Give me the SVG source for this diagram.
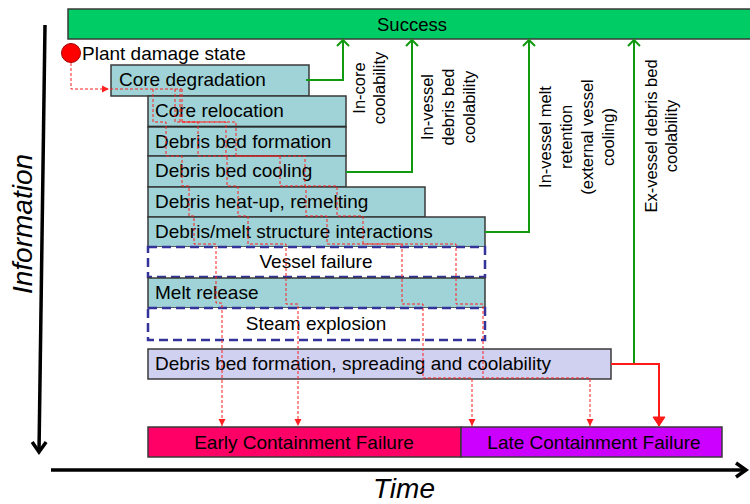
<svg xmlns="http://www.w3.org/2000/svg" width="750" height="504" viewBox="0 0 750 504">
<defs>
<style>
text{font-family:"Liberation Sans",Arial,sans-serif;fill:#000}
.lbl{font-size:19px}
.vl{font-size:16.5px;text-anchor:middle}
.box{fill:#9fd3d7;stroke:#3a3a3a;stroke-width:1.5}
.dbox{fill:#fff;stroke:#333399;stroke-width:2.5;stroke-dasharray:9 5}
.g{fill:none;stroke:#109a10;stroke-width:2}
.rd{fill:none;stroke:#ff2020;stroke-width:1;stroke-dasharray:3 2}
.rt{fill:none;stroke:#ff1a1a;stroke-width:2}
.ax{fill:none;stroke:#000;stroke-width:3.5}
</style>
<marker id="ag" markerUnits="userSpaceOnUse" markerWidth="14" markerHeight="14" refX="7" refY="7" orient="auto" viewBox="0 0 14 14"><path d="M1,1 L7,7 L1,13" fill="none" stroke="#109a10" stroke-width="2"/></marker>
<marker id="ar" markerUnits="userSpaceOnUse" markerWidth="14" markerHeight="14" refX="10" refY="7" orient="auto" viewBox="0 0 14 14"><path d="M1,1 L10,7 L1,13 Z" fill="#ff1a1a" stroke="#ff1a1a" stroke-width="1"/></marker>
<marker id="ad" markerUnits="userSpaceOnUse" markerWidth="8" markerHeight="8" refX="7" refY="4" orient="auto" viewBox="0 0 8 8"><path d="M0,0.5 L7,4 L0,7.5 Z" fill="#ff2020"/></marker>
<marker id="ak" markerUnits="userSpaceOnUse" markerWidth="20" markerHeight="20" refX="12" refY="10" orient="auto" viewBox="0 0 20 20"><path d="M2,3 L12,10 L2,17" fill="none" stroke="#000" stroke-width="3.5"/></marker>
</defs>
<rect width="750" height="504" fill="#fff"/>

<g id="axes">
<path class="ax" d="M45,25 L39,452" marker-end="url(#ak)"/>
<path class="ax" d="M51,470 L746,470" marker-end="url(#ak)"/>
<text transform="translate(32,224) rotate(-90)" style="font-size:28px;font-style:italic;text-anchor:middle">Information</text>
<text x="404" y="498" style="font-size:28px;font-style:italic;text-anchor:middle">Time</text>
</g>

<g id="success">
<rect x="68" y="9" width="690" height="30" fill="#00cc66" stroke="#3a3a3a" stroke-width="1.5"/>
<text x="412" y="31" style="font-size:18.5px;text-anchor:middle">Success</text>
</g>

<g id="plant-damage-state">
<circle cx="71" cy="53" r="9.5" fill="#ff0000" stroke="#a00000" stroke-width="1"/>
<text class="lbl" x="82" y="60">Plant damage state</text>
</g>

<g id="core-degradation">
<rect class="box" x="111" y="65" width="198" height="31"/>
<text class="lbl" x="119" y="86">Core degradation</text>
</g>
<g id="core-relocation">
<rect class="box" x="148" y="96" width="198" height="31"/>
<line x1="148" y1="127" x2="346" y2="127" stroke="#000" stroke-width="2.5"/>
<text class="lbl" x="155" y="117">Core relocation</text>
</g>
<g id="debris-bed-formation">
<rect class="box" x="148" y="127" width="198" height="29"/>
<text class="lbl" x="155" y="148">Debris bed formation</text>
</g>
<g id="debris-bed-cooling">
<rect class="box" x="148" y="156" width="198" height="31"/>
<text class="lbl" x="155" y="177">Debris bed cooling</text>
</g>
<g id="debris-heat-up">
<rect class="box" x="148" y="187" width="277" height="30"/>
<text class="lbl" x="155" y="208">Debris heat-up, remelting</text>
</g>
<g id="debris-melt-structure">
<rect class="box" x="148" y="217" width="337" height="30"/>
<text class="lbl" x="155" y="238">Debris/melt structure interactions</text>
</g>
<g id="vessel-failure">
<rect class="dbox" x="148" y="247" width="337" height="30"/>
<text class="lbl" x="316" y="268" text-anchor="middle">Vessel failure</text>
</g>
<g id="melt-release">
<rect class="box" x="148" y="278" width="337" height="30"/>
<text class="lbl" x="155" y="299">Melt release</text>
</g>
<g id="steam-explosion">
<rect class="dbox" x="148" y="308" width="337" height="32"/>
<text class="lbl" x="316" y="330" text-anchor="middle">Steam explosion</text>
</g>
<g id="ex-vessel-debris-bed">
<rect x="148" y="349" width="463" height="30" fill="#d0d0f0" stroke="#3a3a3a" stroke-width="1.5"/>
<text class="lbl" x="155" y="370">Debris bed formation, spreading and coolability</text>
</g>
<g id="early-containment-failure">
<rect x="148" y="427" width="313" height="30" fill="#ff0066" stroke="#3a3a3a" stroke-width="1.5"/>
<text class="lbl" x="304" y="449" text-anchor="middle">Early Containment Failure</text>
</g>
<g id="late-containment-failure">
<rect x="461" y="427" width="261" height="30" fill="#cc00ff" stroke="#3a3a3a" stroke-width="1.5"/>
<text class="lbl" x="594" y="449" text-anchor="middle">Late Containment Failure</text>
</g>

<g id="success-labels">
<text class="vl" transform="translate(365,88) rotate(-90)"><tspan x="0" dy="0">In-core</tspan><tspan x="0" dy="20">coolability</tspan></text>
<text class="vl" transform="translate(433,107) rotate(-90)"><tspan x="0" dy="0">In-vessel</tspan><tspan x="0" dy="21">debris bed</tspan><tspan x="0" dy="21">coolability</tspan></text>
<text class="vl" transform="translate(551,137) rotate(-90)"><tspan x="0" dy="0">In-vessel melt</tspan><tspan x="0" dy="21">retention</tspan><tspan x="0" dy="21">(external vessel</tspan><tspan x="0" dy="21">cooling)</tspan></text>
<text class="vl" transform="translate(657,136) rotate(-90)"><tspan x="0" dy="0">Ex-vessel debris bed</tspan><tspan x="0" dy="20">coolability</tspan></text>
</g>

<g id="connectors">
<path class="g" d="M306,80 H343 V40" marker-end="url(#ag)"/>
<path class="g" d="M346,172 H412 V40" marker-end="url(#ag)"/>
<path class="g" d="M485,232 H529 V40" marker-end="url(#ag)"/>
<path class="g" d="M634,364 V40" marker-end="url(#ag)"/>
<path class="rt" d="M611,364 H659 V426" marker-end="url(#ar)"/>
<path class="rd" d="M71,63 V89 H109" marker-end="url(#ad)"/>
<path class="rd" d="M110,89 H182"/>
<path class="rd" d="M153,89 V122 H166 V156 H182 V186 H189 V216 H194 V244 H216 V303 H222 V426" marker-end="url(#ad)"/>
<path class="rd" d="M175,89 V122 H198 V156 H227 V186 H238 V216 H248 V244 H286 V304 H298 V426" marker-end="url(#ad)"/>
<path class="rd" d="M182,89 V122 H226 V156 H280 V186 H306 V216 H327 V244 H402 V304 H423 V378 H472 V426" marker-end="url(#ad)"/>
<path class="rd" d="M180,89 V122 H236 V156 H305 V186 H337 V216 H363 V244 H456 V304 H483 V378 H590 V426" marker-end="url(#ad)"/>
</g>
</svg>
